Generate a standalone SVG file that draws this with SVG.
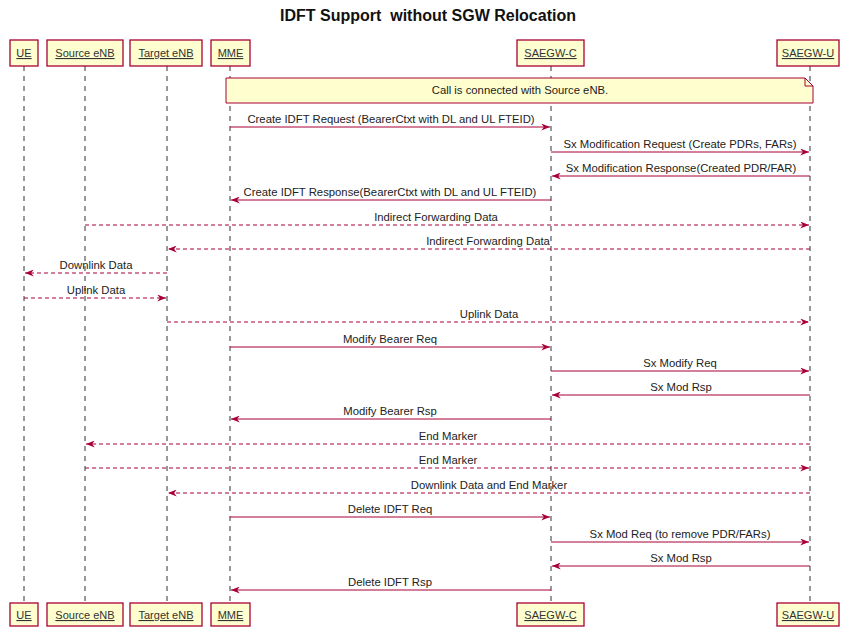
<svg xmlns="http://www.w3.org/2000/svg" width="841" height="629" viewBox="0 0 841 629">
<defs>
<style>
.box{fill:#FEFECE;stroke:#A80036;stroke-width:1.3}
.pl{font-family:"Liberation Sans",Arial,sans-serif;font-size:11px;fill:#333;text-decoration:underline;text-anchor:middle}
.life{stroke:#333;stroke-width:1;stroke-dasharray:5,5}
.msg{stroke:#A80036;stroke-width:1;fill:none}
.dash{stroke-dasharray:4,3}
.lbl{font-family:"Liberation Sans",Arial,sans-serif;font-size:11.3px;fill:#222;text-anchor:middle}
.title{font-family:"Liberation Sans",Arial,sans-serif;font-size:16px;font-weight:bold;fill:#111;text-anchor:middle}
</style>
<marker id="ah" viewBox="0 0 10 8" refX="10" refY="4" markerWidth="9" markerHeight="7" markerUnits="userSpaceOnUse" orient="auto">
<path d="M0,0 L10,4 L0,8 L3,4 Z" fill="#A80036"/>
</marker>
</defs>
<rect width="841" height="629" fill="#fff"/>
<text class="title" x="428" y="21" xml:space="preserve">IDFT Support  without SGW Relocation</text>
<g id="lifelines">
<line class="life" x1="24" y1="66" x2="24" y2="603"/>
<line class="life" x1="85" y1="66" x2="85" y2="603"/>
<line class="life" x1="167" y1="66" x2="167" y2="603"/>
<line class="life" x1="230" y1="66" x2="230" y2="603"/>
<line class="life" x1="551" y1="66" x2="551" y2="603"/>
<line class="life" x1="810" y1="66" x2="810" y2="603"/>
</g>
<g id="p-ue"><rect class="box" x="10" y="40" width="28" height="26"/><text class="pl" x="24" y="57">UE</text>
<rect class="box" x="10" y="603" width="28" height="23"/><text class="pl" x="24" y="619">UE</text></g>
<g id="p-src"><rect class="box" x="47" y="40" width="76" height="26"/><text class="pl" x="85" y="57">Source eNB</text>
<rect class="box" x="47" y="603" width="76" height="23"/><text class="pl" x="85" y="619">Source eNB</text></g>
<g id="p-tgt"><rect class="box" x="130" y="40" width="72" height="26"/><text class="pl" x="166" y="57">Target eNB</text>
<rect class="box" x="130" y="603" width="72" height="23"/><text class="pl" x="166" y="619">Target eNB</text></g>
<g id="p-mme"><rect class="box" x="211" y="40" width="39" height="26"/><text class="pl" x="230.500" y="57">MME</text>
<rect class="box" x="211" y="603" width="39" height="23"/><text class="pl" x="230.500" y="619">MME</text></g>
<g id="p-sgwc"><rect class="box" x="517" y="40" width="67" height="26"/><text class="pl" x="550.500" y="57">SAEGW-C</text>
<rect class="box" x="517" y="603" width="67" height="23"/><text class="pl" x="550.500" y="619">SAEGW-C</text></g>
<g id="p-sgwu"><rect class="box" x="777" y="40" width="62" height="26"/><text class="pl" x="808" y="57">SAEGW-U</text>
<rect class="box" x="777" y="603" width="62" height="23"/><text class="pl" x="808" y="619">SAEGW-U</text></g>
<g id="note">
<path d="M226,78 H805 L813,86 V103 H226 Z" fill="#FEFECE" stroke="#A80036" stroke-width="1"/>
<path d="M805,78 V86 H813" fill="none" stroke="#A80036" stroke-width="1"/>
<text class="lbl" x="520" y="94">Call is connected with Source eNB.</text>
</g>
<g id="connectors">
<line class="msg" x1="230" y1="127" x2="550" y2="127" marker-end="url(#ah)"/>
<text class="lbl" x="391" y="123">Create IDFT Request (BearerCtxt with DL and UL FTEID)</text>
<line class="msg" x1="551" y1="152" x2="809" y2="152" marker-end="url(#ah)"/>
<text class="lbl" x="680" y="148">Sx Modification Request (Create PDRs, FARs)</text>
<line class="msg" x1="810" y1="176" x2="552" y2="176" marker-end="url(#ah)"/>
<text class="lbl" x="681" y="172">Sx Modification Response(Created PDR/FAR)</text>
<line class="msg" x1="551" y1="200" x2="231" y2="200" marker-end="url(#ah)"/>
<text class="lbl" x="390" y="196">Create IDFT Response(BearerCtxt with DL and UL FTEID)</text>
<line class="msg dash" x1="85" y1="225" x2="809" y2="225" marker-end="url(#ah)"/>
<text class="lbl" x="436" y="221">Indirect Forwarding Data</text>
<line class="msg dash" x1="810" y1="249" x2="168" y2="249" marker-end="url(#ah)"/>
<text class="lbl" x="488" y="245">Indirect Forwarding Data</text>
<line class="msg dash" x1="167" y1="273" x2="25" y2="273" marker-end="url(#ah)"/>
<text class="lbl" x="96" y="269">Downlink Data</text>
<line class="msg dash" x1="24" y1="298" x2="166" y2="298" marker-end="url(#ah)"/>
<text class="lbl" x="96" y="294">Uplink Data</text>
<line class="msg dash" x1="167" y1="322" x2="809" y2="322" marker-end="url(#ah)"/>
<text class="lbl" x="489" y="318">Uplink Data</text>
<line class="msg" x1="230" y1="347" x2="550" y2="347" marker-end="url(#ah)"/>
<text class="lbl" x="390" y="343">Modify Bearer Req</text>
<line class="msg" x1="551" y1="371" x2="809" y2="371" marker-end="url(#ah)"/>
<text class="lbl" x="680" y="367">Sx Modify Req</text>
<line class="msg" x1="810" y1="395" x2="552" y2="395" marker-end="url(#ah)"/>
<text class="lbl" x="681" y="391">Sx Mod Rsp</text>
<line class="msg" x1="551" y1="419" x2="231" y2="419" marker-end="url(#ah)"/>
<text class="lbl" x="390" y="415">Modify Bearer Rsp</text>
<line class="msg dash" x1="810" y1="444" x2="86" y2="444" marker-end="url(#ah)"/>
<text class="lbl" x="448" y="440">End Marker</text>
<line class="msg dash" x1="85" y1="468" x2="809" y2="468" marker-end="url(#ah)"/>
<text class="lbl" x="448" y="464">End Marker</text>
<line class="msg dash" x1="810" y1="493" x2="168" y2="493" marker-end="url(#ah)"/>
<text class="lbl" x="489" y="489">Downlink Data and End Marker</text>
<line class="msg" x1="230" y1="517" x2="550" y2="517" marker-end="url(#ah)"/>
<text class="lbl" x="390" y="513">Delete IDFT Req</text>
<line class="msg" x1="551" y1="542" x2="809" y2="542" marker-end="url(#ah)"/>
<text class="lbl" x="680" y="538">Sx Mod Req (to remove PDR/FARs)</text>
<line class="msg" x1="810" y1="566" x2="552" y2="566" marker-end="url(#ah)"/>
<text class="lbl" x="681" y="562">Sx Mod Rsp</text>
<line class="msg" x1="551" y1="590" x2="231" y2="590" marker-end="url(#ah)"/>
<text class="lbl" x="390" y="586">Delete IDFT Rsp</text>
</g>
</svg>
